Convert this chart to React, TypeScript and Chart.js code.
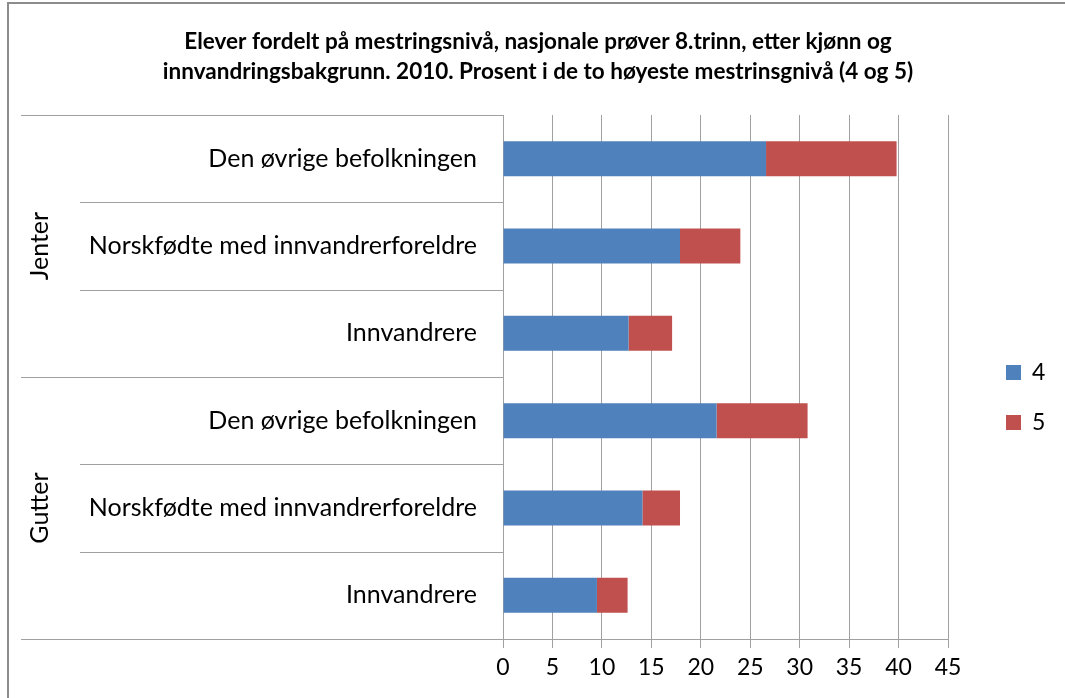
import { useEffect, useRef } from 'react';
import { Chart, registerables } from 'chart.js';

Chart.register(...registerables);

const titleLines = [
  'Elever fordelt på mestringsnivå, nasjonale prøver 8.trinn, etter kjønn og',
  'innvandringsbakgrunn. 2010. Prosent i de to høyeste mestrinsgnivå (4 og 5)',
];
const categories = [
  'Den øvrige befolkningen',
  'Norskfødte med innvandrerforeldre',
  'Innvandrere',
  'Den øvrige befolkningen',
  'Norskfødte med innvandrerforeldre',
  'Innvandrere',
];
const groups = ['Jenter', 'Gutter'];
const groupSizes = [3, 3];
const seriesNames = ['4', '5'];
const level4 = [26.6, 17.9, 12.7, 21.6, 14.1, 9.5];
const level5 = [13.2, 6.1, 4.4, 9.2, 3.8, 3.1];
const xMin = 0;
const xMax = 45;
const xStep = 5;

const BLUE = '#4F81BD';
const RED = '#C0504D';
const LINE = '#A0A0A0';
const FONT = 'Lato';

const decorPlugin = {
  id: 'decor',
  beforeDraw(chart: any) {
    const ctx = chart.ctx;
    ctx.save();
    ctx.fillStyle = '#ffffff';
    ctx.fillRect(0, 0, chart.width, chart.height);
    ctx.fillStyle = '#8C8C8C';
    ctx.fillRect(7, 2, 2, chart.height);
    ctx.fillRect(7, 2, chart.width, 2);
    ctx.restore();
  },
  afterDraw(chart: any) {
    const ctx = chart.ctx;
    const y = chart.scales.y;
    const area = chart.chartArea;
    ctx.save();
    // title
    ctx.fillStyle = '#000';
    ctx.font = `bold 22.5px ${FONT}`;
    ctx.textAlign = 'center';
    ctx.textBaseline = 'middle';
    titleLines.forEach((t, i) => ctx.fillText(t, 538, 42 + i * 30));

    // category dividers
    const n = categories.length;
    const centers = categories.map((_, i) => y.getPixelForValue(i));
    const bounds: number[] = [area.top];
    for (let i = 0; i < n - 1; i++) bounds.push((centers[i] + centers[i + 1]) / 2);
    bounds.push(area.bottom);
    const groupEnds = new Set<number>();
    let acc = 0;
    groupEnds.add(0);
    groupSizes.forEach((s) => { acc += s; groupEnds.add(acc); });
    ctx.strokeStyle = LINE;
    ctx.lineWidth = 1;
    bounds.forEach((b, i) => {
      const yy = Math.round(b) + 0.5;
      ctx.beginPath();
      ctx.moveTo(groupEnds.has(i) ? 21 : 80, yy);
      ctx.lineTo(area.left, yy);
      ctx.stroke();
    });

    // group labels
    ctx.font = `25px ${FONT}`;
    ctx.fillStyle = '#000';
    let start = 0;
    groups.forEach((g, gi) => {
      const top = bounds[start];
      const bot = bounds[start + groupSizes[gi]];
      start += groupSizes[gi];
      ctx.save();
      ctx.translate(40, (top + bot) / 2);
      ctx.rotate(-Math.PI / 2);
      ctx.textAlign = 'center';
      ctx.textBaseline = 'middle';
      ctx.fillText(g, 0, 0);
      ctx.restore();
    });

    // legend
    const colors = [BLUE, RED];
    ctx.font = `23px ${FONT}`;
    ctx.textAlign = 'left';
    ctx.textBaseline = 'middle';
    seriesNames.forEach((s, i) => {
      const cy = 372 + i * 50;
      ctx.fillStyle = colors[i];
      ctx.fillRect(1006, cy - 7, 15, 15);
      ctx.fillStyle = '#000';
      ctx.fillText(s, 1032, cy + 1);
    });
    ctx.restore();
  },
};

export default function App() {
  const ref = useRef<HTMLCanvasElement>(null);
  useEffect(() => {
    document.body.style.margin = '0';
    const chart = new Chart(ref.current!, {
      type: 'bar',
      data: {
        labels: categories,
        datasets: [
          { label: seriesNames[0], data: level4, backgroundColor: BLUE, barPercentage: 0.4, categoryPercentage: 1 },
          { label: seriesNames[1], data: level5, backgroundColor: RED, barPercentage: 0.4, categoryPercentage: 1 },
        ],
      },
      options: {
        indexAxis: 'y',
        animation: false,
        responsive: true,
        maintainAspectRatio: false,
        layout: { padding: { left: 0, top: 115, right: 117, bottom: 0 } },
        plugins: {
          legend: { display: false },
          title: { display: false },
          tooltip: { enabled: false },
        },
        scales: {
          x: {
            stacked: true,
            min: xMin,
            max: xMax,
            ticks: { stepSize: xStep, color: '#000', font: { family: FONT, size: 23 }, padding: 6 },
            grid: { color: LINE, lineWidth: 1, tickLength: 9, drawTicks: true },
            border: { color: LINE, width: 1 },
            afterFit: (s: any) => { s.height = 59; },
          },
          y: {
            stacked: true,
            ticks: { color: '#000', font: { family: FONT, size: 25 }, padding: 26, autoSkip: false },
            grid: { display: false, drawTicks: false },
            border: { color: LINE, width: 1 },
            afterFit: (s: any) => { s.width = 503; },
          },
        },
      },
      plugins: [decorPlugin],
    } as any);
    return () => chart.destroy();
  }, []);
  return (
    <div style={{ position: 'fixed', left: 0, top: 0, width: 1065, height: 698 }}>
      <canvas ref={ref} />
    </div>
  );
}
